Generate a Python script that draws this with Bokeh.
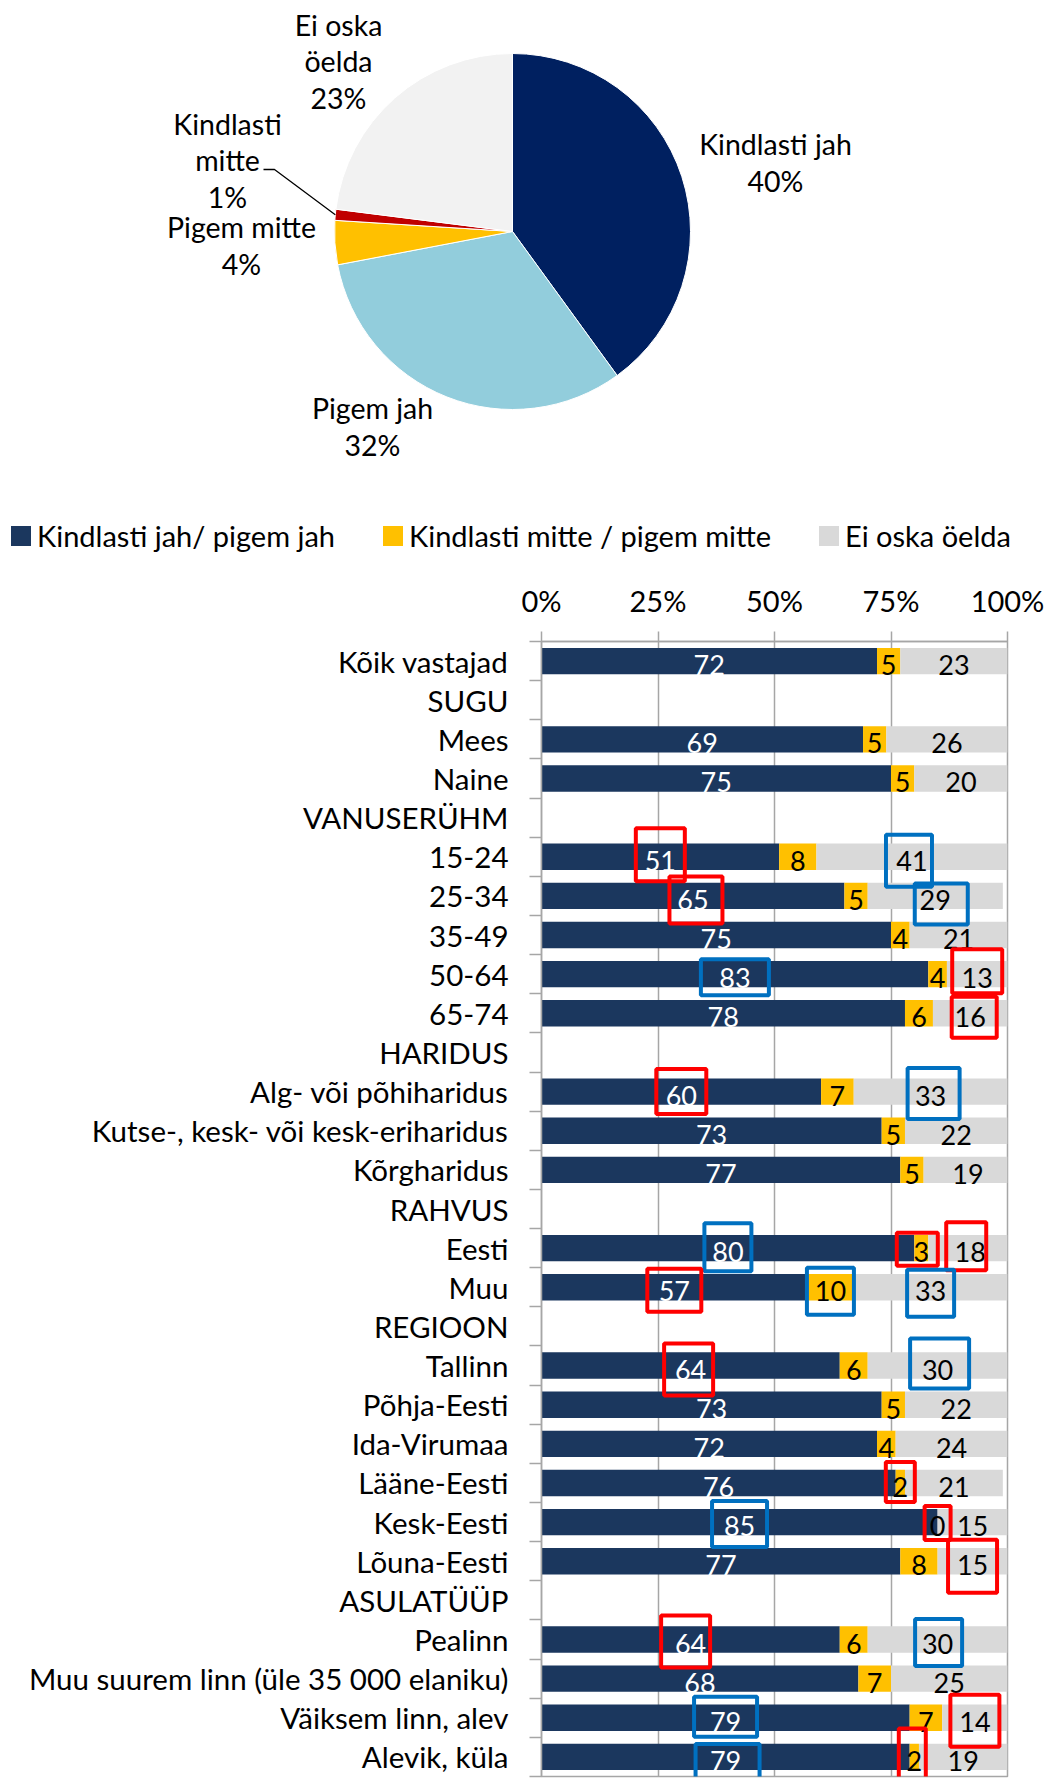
import math
from bokeh.plotting import figure
from bokeh.models import (ColumnDataSource, Range1d, FixedTicker, PrintfTickFormatter,
                          Legend, LegendItem)
from bokeh.layouts import column
from bokeh.embed import file_html
from bokeh.resources import INLINE
from bokeh.core.properties import value

# ---------------- data ----------------
pie_names = ["Kindlasti jah", "Pigem jah", "Pigem mitte", "Kindlasti\nmitte", "Ei oska\nöelda"]
pie_values = [40, 32, 4, 1, 23]

categories = ["Kõik vastajad", "SUGU", "Mees", "Naine", "VANUSERÜHM", "15-24", "25-34", "35-49",
              "50-64", "65-74", "HARIDUS", "Alg- või põhiharidus",
              "Kutse-, kesk- või kesk-eriharidus", "Kõrgharidus", "RAHVUS", "Eesti", "Muu",
              "REGIOON", "Tallinn", "Põhja-Eesti", "Ida-Virumaa", "Lääne-Eesti", "Kesk-Eesti",
              "Lõuna-Eesti", "ASULATÜÜP", "Pealinn", "Muu suurem linn (üle 35 000 elaniku)",
              "Väiksem linn, alev", "Alevik, küla"]
yes_vals = [72, None, 69, 75, None, 51, 65, 75, 83, 78, None, 60, 73, 77, None, 80, 57, None,
            64, 73, 72, 76, 85, 77, None, 64, 68, 79, 79]
no_vals = [5, None, 5, 5, None, 8, 5, 4, 4, 6, None, 7, 5, 5, None, 3, 10, None,
           6, 5, 4, 2, 0, 8, None, 6, 7, 7, 2]
dk_vals = [23, None, 26, 20, None, 41, 29, 21, 13, 16, None, 33, 22, 19, None, 18, 33, None,
           30, 22, 24, 21, 15, 15, None, 30, 25, 14, 19]
series_names = ["Kindlasti jah/ pigem jah", "Kindlasti mitte / pigem mitte", "Ei oska öelda"]
x_ticks = [0, 25, 50, 75, 100]

# highlighted (significantly different) values: (category, series, colour-key)
highlights = [("15-24", "yes", "red"), ("15-24", "dk", "blue"), ("25-34", "yes", "red"),
              ("25-34", "dk", "blue"), ("50-64", "yes", "blue"), ("50-64", "dk", "red"),
              ("65-74", "dk", "red"), ("Alg- või põhiharidus", "yes", "red"),
              ("Alg- või põhiharidus", "dk", "blue"), ("Eesti", "yes", "blue"),
              ("Eesti", "no", "red"), ("Eesti", "dk", "red"), ("Muu", "yes", "red"),
              ("Muu", "no", "blue"), ("Muu", "dk", "blue"), ("Tallinn", "yes", "red"),
              ("Tallinn", "dk", "blue"), ("Lääne-Eesti", "no", "red"), ("Kesk-Eesti", "no", "red"),
              ("Kesk-Eesti", "yes", "blue"), ("Lõuna-Eesti", "dk", "red"), ("Pealinn", "yes", "red"),
              ("Pealinn", "dk", "blue"), ("Väiksem linn, alev", "yes", "blue"),
              ("Väiksem linn, alev", "dk", "red"), ("Alevik, küla", "yes", "blue"),
              ("Alevik, küla", "no", "red")]

# ---------------- layout / style ----------------
FONT = "Lato"
FS_Y = "29.5px"
FS_X = "29px"
FS_VAL = "27px"
FS_PIE = "28.5px"
FS_LEG = "29px"
W = 1045
PIE_H = 560
BAR_H = 1222
TOP_B, BOT_B, LEFT_B, RIGHT_B = 81, 6, 541, 38
pie_colors = ["#002060", "#92CDDC", "#FFC000", "#C00000", "#F2F2F2"]
bar_colors = {"yes": "#1B375E", "no": "#FFC000", "dk": "#D9D9D9"}
box_colors = {"red": "#FF0000", "blue": "#0070C0"}
GRID = "#A6A6A6"
# box outer size (w, h) and nudge (dx, dy) in screen px, same order as highlights
box_geom = [(53, 57, 0, -2), (50, 56, -3, 4), (57, 51, 3, 4), (57, 45, 6, 8), (72, 40, 0, 3),
            (54, 48, 0, -3), (49, 45, 4, 4), (54, 49, 0, 0), (56, 55, 3, 2), (51, 52, 0, -1),
            (45, 37, -4, 1), (44, 52, -4, -2), (58, 47, 0, 3), (51, 51, 0, 4), (51, 51, 0, 6),
            (53, 56, -2, 4), (63, 54, 2, -2), (33, 44, 0, -1), (30, 38, 0, 1), (59, 50, 0, 2),
            (53, 57, 0, 5), (53, 56, -5, 2), (51, 51, 1, 3), (67, 44, 0, -1), (53, 56, 0, 3),
            (68, 50, 2, 10), (31, 55, -2, -3)]
# pie geometry (page px)
PIE_CX, PIE_CY, PIE_R = 512, 231, 178
pie_label_screen = [(775, 162), (372, 426), (241, 245), (227, 160), (338, 61)]
LEGEND_LOC = (8, 7)


def sy(y):
    return PIE_H - y


# ---------------- pie ----------------
pie = figure(width=W, height=PIE_H, x_range=Range1d(0, W), y_range=Range1d(0, PIE_H),
             toolbar_location=None, output_backend="svg", x_axis_location=None,
             y_axis_location=None, min_border=0, frame_align=False)
pie.grid.visible = False
pie.outline_line_color = None

total = float(sum(pie_values))
starts, ends, cum = [], [], 0.0
for v in pie_values:
    starts.append(math.pi / 2 - 2 * math.pi * cum / total)
    cum += v
    ends.append(math.pi / 2 - 2 * math.pi * cum / total)
cx, cy = PIE_CX, sy(PIE_CY)
pie.wedge(x=cx, y=cy, radius=PIE_R, radius_units="screen",
          start_angle=starts, end_angle=ends, direction="clock",
          fill_color=pie_colors, line_color="white", line_width=1)

pie_text = [f"{n}\n{v}%" for n, v in zip(pie_names, pie_values)]
pie.text(x=[p[0] for p in pie_label_screen], y=[sy(p[1]) for p in pie_label_screen],
         text=pie_text, text_align="center", text_baseline="middle",
         text_font=value(FONT), text_font_size=FS_PIE, text_line_height=1.08,
         text_color="black")

# leader line for the small slice
k = 3
mid = (starts[k] + ends[k]) / 2
ex, ey = cx + PIE_R * math.cos(mid), cy + PIE_R * math.sin(mid)
lx, ly = pie_label_screen[k][0], sy(pie_label_screen[k][1])
pie.line(x=[lx + 36, lx + 47, ex], y=[ly - 9, ly - 9, ey], line_color="black", line_width=1.3)

# ---------------- bars ----------------
n = len(categories)
ys = [n - 0.5 - i for i in range(n)]
rows = [i for i in range(n) if yes_vals[i] is not None]
yes = [yes_vals[i] for i in rows]
no = [no_vals[i] for i in rows]
dk = [dk_vals[i] for i in rows]
yy = [ys[i] for i in rows]
no_r = [a + b for a, b in zip(yes, no)]
dk_r = [a + b for a, b in zip(no_r, dk)]
src = ColumnDataSource(dict(
    y=yy, yes_l=[0] * len(yes), yes_r=yes, no_l=yes, no_r=no_r, dk_l=no_r, dk_r=dk_r,
    yes_m=[v / 2 for v in yes], no_m=[a + b / 2 for a, b in zip(yes, no)],
    dk_m=[a + b / 2 for a, b in zip(no_r, dk)],
    yes_t=[str(v) for v in yes], no_t=[str(v) for v in no], dk_t=[str(v) for v in dk]))

bar = figure(width=W, height=BAR_H, x_range=Range1d(0, 100), y_range=Range1d(0, n),
             toolbar_location=None, output_backend="svg", x_axis_location="above",
             min_border_left=LEFT_B, min_border_right=RIGHT_B, min_border_top=TOP_B,
             min_border_bottom=BOT_B, frame_align=False)

BH = 0.674
r_yes = bar.hbar(y="y", left="yes_l", right="yes_r", height=BH, source=src,
                 fill_color=bar_colors["yes"], line_color=None)
r_no = bar.hbar(y="y", left="no_l", right="no_r", height=BH, source=src,
                fill_color=bar_colors["no"], line_color=None)
r_dk = bar.hbar(y="y", left="dk_l", right="dk_r", height=BH, source=src,
                fill_color=bar_colors["dk"], line_color=None)

for key, col in (("yes", "white"), ("no", "black"), ("dk", "black")):
    bar.text(x=f"{key}_m", y="y", text=f"{key}_t", source=src, text_align="center",
             text_baseline="middle", y_offset=4, text_font=value(FONT), text_font_size=FS_VAL,
             text_color=col)

# highlight boxes
frame_w = W - LEFT_B - RIGHT_B
row_px = (BAR_H - TOP_B - BOT_B) / n
bx, by, bw, bh, bc = [], [], [], [], []
mids = {"yes": src.data["yes_m"], "no": src.data["no_m"], "dk": src.data["dk_m"]}
for (cat, ser, colkey), (w, h, dx, dy) in zip(highlights, box_geom):
    i = categories.index(cat)
    j = rows.index(i)
    bx.append(mids[ser][j] + dx * 100.0 / frame_w)
    by.append(ys[i] - dy / row_px)
    bw.append(w - 4)
    bh.append(h - 4)
    bc.append(box_colors[colkey])
bar.rect(x=bx, y=by, width=bw, height=bh, width_units="screen", height_units="screen",
         fill_color=None, line_color=bc, line_width=4)

# axes
xa = bar.xaxis[0]
xa.ticker = FixedTicker(ticks=x_ticks)
xa.formatter = PrintfTickFormatter(format="%d%%")
xa.major_tick_out = 10
xa.major_tick_in = 0
xa.major_tick_line_color = GRID
xa.major_tick_line_width = 1.5
xa.axis_line_color = GRID
xa.axis_line_width = 1.5
xa.major_label_standoff = 14
xa.major_label_text_font = FONT
xa.major_label_text_font_size = FS_X
xa.major_label_text_color = "black"

ya = bar.yaxis[0]
ya.ticker = FixedTicker(ticks=ys, minor_ticks=list(range(n + 1)))
ya.major_label_overrides = {y: c for y, c in zip(ys, categories)}
ya.major_tick_out = 0
ya.major_tick_in = 0
ya.minor_tick_out = 12
ya.minor_tick_in = 0
ya.minor_tick_line_color = GRID
ya.minor_tick_line_width = 1.5
ya.axis_line_color = GRID
ya.axis_line_width = 1.5
ya.major_label_standoff = 21
ya.major_label_text_font = FONT
ya.major_label_text_font_size = FS_Y
ya.major_label_text_color = "black"

bar.xgrid.ticker = FixedTicker(ticks=x_ticks)
bar.xgrid.grid_line_color = GRID
bar.xgrid.grid_line_width = 1.5
bar.ygrid.visible = False
bar.outline_line_color = GRID
bar.outline_line_width = 1.5

# legend: hidden copies of the three bar series, so the legend can sit in the header area
proxies = [pie.hbar(y="y", left=f"{s}_l", right=f"{s}_r", height=BH, source=src,
                    fill_color=bar_colors[s], line_color=None, visible=False)
           for s in ("yes", "no", "dk")]
legend = Legend(items=[LegendItem(label=nm, renderers=[r]) for nm, r in zip(series_names, proxies)],
                orientation="horizontal", location=LEGEND_LOC, padding=0, margin=0,
                spacing=45, label_standoff=4, glyph_width=25, glyph_height=25,
                border_line_color=None, background_fill_alpha=0,
                label_text_font=FONT, label_text_font_size=FS_LEG, label_text_color="black")
pie.add_layout(legend)

layout = column(pie, bar, spacing=0)
open("out.html", "w").write(file_html(layout, INLINE))
